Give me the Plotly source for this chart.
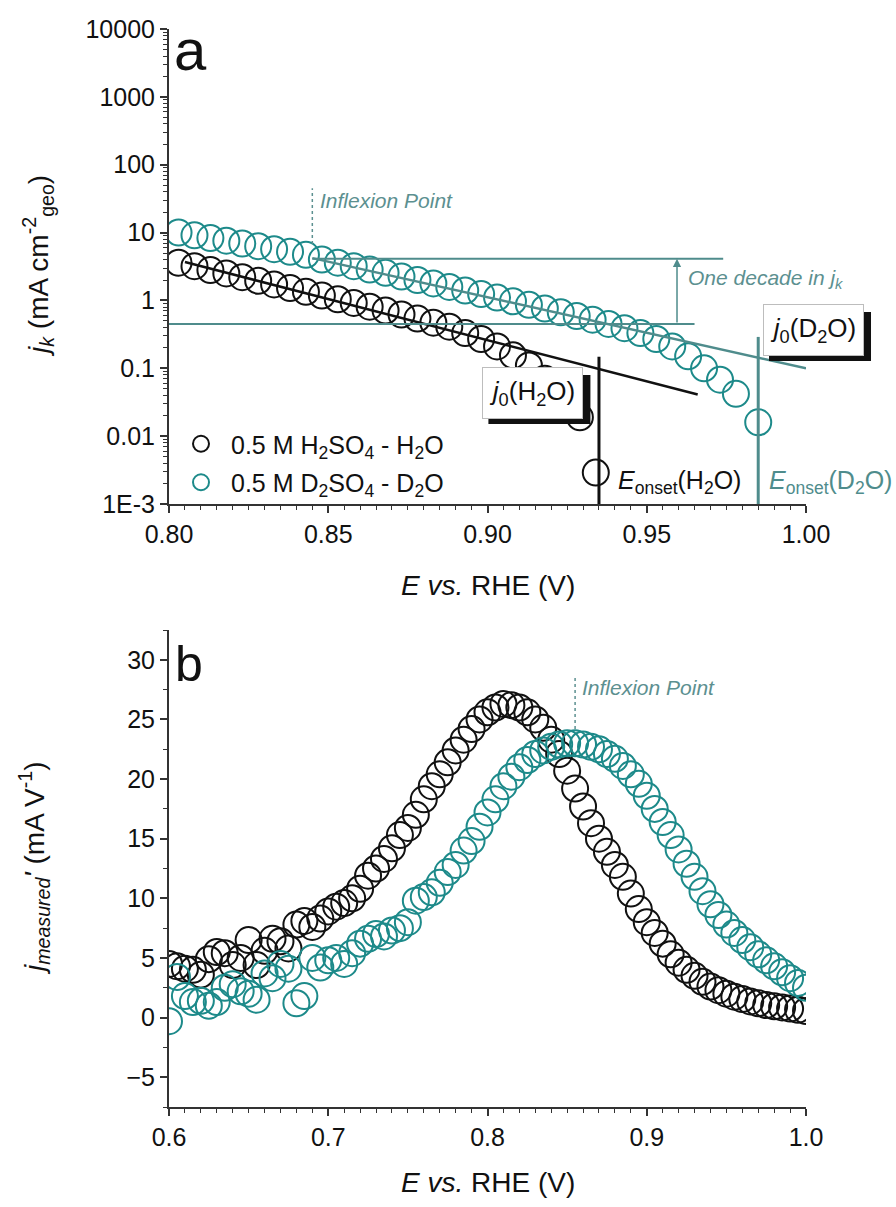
import math
import plotly.graph_objects as go

# ---------------- panel (a): kinetic current density (Tafel plot) ----------------
E_A_H2O = [0.803, 0.808, 0.813, 0.818, 0.823, 0.828, 0.833, 0.838, 0.843, 0.848,
           0.853, 0.858, 0.863, 0.868, 0.873, 0.878, 0.883, 0.888, 0.893, 0.898,
           0.903, 0.908, 0.913, 0.918, 0.923, 0.929, 0.934]
JK_H2O = [3.6, 3.2, 2.8, 2.5, 2.2, 1.95, 1.72, 1.52, 1.34, 1.18,
          1.04, 0.92, 0.81, 0.71, 0.62, 0.54, 0.47, 0.41, 0.33, 0.27,
          0.21, 0.155, 0.11, 0.07, 0.04, 0.019, 0.0029]

E_A_D2O = [0.803, 0.808, 0.813, 0.818, 0.823, 0.828, 0.833, 0.838, 0.843, 0.848,
           0.853, 0.858, 0.863, 0.868, 0.873, 0.878, 0.883, 0.888, 0.893, 0.898,
           0.903, 0.908, 0.913, 0.918, 0.923, 0.928, 0.933, 0.938, 0.943, 0.948,
           0.953, 0.958, 0.963, 0.968, 0.973, 0.978, 0.985]
JK_D2O = [10.0, 9.1, 8.3, 7.6, 6.9, 6.3, 5.7, 5.2, 4.7, 4.0,
          3.6, 3.2, 2.85, 2.55, 2.25, 2.0, 1.78, 1.58, 1.4, 1.24,
          1.1, 0.97, 0.86, 0.76, 0.67, 0.59, 0.52, 0.45, 0.39, 0.33,
          0.27, 0.21, 0.15, 0.10, 0.068, 0.042, 0.016]

# Tafel fits, one-decade guides, onset potentials, inflexion
TAFEL_H2O_E = [0.805, 0.966]
TAFEL_H2O_J = [3.68, 0.041]
TAFEL_D2O_E = [0.845, 1.0]
TAFEL_D2O_J = [4.2, 0.1]
DECADE_UPPER_E = [0.845, 0.974]
DECADE_UPPER_J = [4.1, 4.1]
DECADE_LOWER_E = [0.80, 0.965]
DECADE_LOWER_J = [0.45, 0.45]
DECADE_ARROW_E = 0.9595
E_ONSET_H2O = 0.935
E_ONSET_H2O_J = [0.001, 0.148]
E_ONSET_D2O = 0.985
E_ONSET_D2O_J = [0.001, 0.29]
E_INFLEXION_A = 0.845
INFLEXION_A_J = [6.8, 45]
J0_H2O_POS = (0.9141, 0.0433)
J0_D2O_POS = (1.0022, 0.366)

# ---------------- panel (b): derivative of the measured current ----------------
E_B = [0.600, 0.605, 0.610, 0.615, 0.620, 0.625, 0.630, 0.635, 0.640, 0.645,
       0.650, 0.655, 0.660, 0.665, 0.670, 0.675, 0.680, 0.685, 0.690, 0.695,
       0.700, 0.705, 0.710, 0.715, 0.720, 0.725, 0.730, 0.735, 0.740, 0.745,
       0.750, 0.755, 0.760, 0.765, 0.770, 0.775, 0.780, 0.785, 0.790, 0.795,
       0.800, 0.805, 0.810, 0.815, 0.820, 0.825, 0.830, 0.835, 0.840, 0.845,
       0.850, 0.855, 0.860, 0.865, 0.870, 0.875, 0.880, 0.885, 0.890, 0.895,
       0.900, 0.905, 0.910, 0.915, 0.920, 0.925, 0.930, 0.935, 0.940, 0.945,
       0.950, 0.955, 0.960, 0.965, 0.970, 0.975, 0.980, 0.985, 0.990, 0.995,
       1.000]
DJ_H2O = [4.5, 4.3, 4.1, 4.0, 3.6, 4.9, 5.5, 5.4, 4.4, 5.0,
          6.5, 4.4, 5.6, 6.6, 6.4, 5.8, 7.8, 8.1, 7.6, 8.3,
          8.9, 9.3, 9.6, 10.0, 10.8, 11.9, 12.5, 13.3, 14.2, 15.3,
          15.9, 17.0, 18.3, 19.4, 20.4, 21.4, 22.4, 23.3, 24.2, 25.0,
          25.6, 26.0, 26.3, 26.2, 26.0, 25.6, 25.0, 24.3, 23.3, 22.1,
          20.7, 19.2, 17.7, 16.3, 15.0, 13.9, 12.8, 11.8, 10.4, 9.1,
          8.0, 7.1, 6.2, 5.3, 4.6, 4.0, 3.5, 3.0, 2.6, 2.3,
          2.0, 1.75, 1.55, 1.35, 1.2, 1.05, 0.95, 0.85, 0.75, 0.65,
          0.55]
DJ_D2O = [-0.3, 3.4, 1.8, 1.3, 1.4, 1.0, 1.3, 2.5, 2.8, 2.2,
          2.0, 1.5, 3.7, 3.3, 4.5, 4.1, 1.2, 1.8, 5.0, 4.2,
          4.8, 5.0, 4.5, 5.4, 6.2, 6.6, 7.0, 6.8, 7.3, 7.5,
          8.0, 9.8, 10.1, 10.5, 11.3, 12.2, 12.8, 14.0, 14.8, 16.0,
          17.2, 18.3, 19.4, 20.2, 21.0, 21.6, 22.1, 22.4, 22.7, 22.9,
          23.0, 23.0, 22.9, 22.7, 22.5, 22.1, 21.7, 21.1, 20.4, 19.6,
          18.6, 17.5, 16.4, 15.3, 14.1, 12.9, 11.8, 10.6, 9.5, 8.6,
          7.8, 7.1, 6.5, 5.9, 5.3, 4.8, 4.3, 3.8, 3.3, 2.9,
          2.5]
E_INFLEXION_B = 0.855
INFLEXION_B_Y = [24.2, 28.7]

Y_TICKS_A = [1e-3, 1e-2, 1e-1, 1, 10, 100, 1000, 10000]
Y_TICKTEXT_A = ["1E-3", "0.01", "0.1", "1", "10", "100", "1000", "10000"]

# ---------------- styling ----------------
FONT = "Liberation Sans, Arial, sans-serif"
BLACK = "#111111"
TEAL = "#1d8a8a"
TEAL_LINE = "#4f8c8c"
TEAL_TEXT = "#5c9090"
AXIS = "#333333"

W, H = 896, 1207
ML, MR, MT, MB = 169, 90, 29, 100
PW, PH = W - ML - MR, H - MT - MB
TOP_DOM = [(H - MB - 504) / PH, 1.0]
BOT_DOM = [0.0, (H - MB - 630) / PH]


def px(xp):
    return (xp - ML) / PW


def py(yp):
    return (H - MB - yp) / PH


def a_paper(E, j):
    xp = (E - 0.8) / 0.2
    yp = TOP_DOM[0] + (math.log10(j) + 3) / 7 * (TOP_DOM[1] - TOP_DOM[0])
    return xp, yp


fig = go.Figure()

MARK = dict(size=26, symbol="circle-open", line=dict(width=2))

# panel a markers
fig.add_trace(go.Scatter(
    x=E_A_H2O, y=JK_H2O, mode="markers", xaxis="x", yaxis="y",
    name="0.5 M H<sub>2</sub>SO<sub>4</sub> - H<sub>2</sub>O", legendgroup="h",
    marker=dict(color=BLACK, **MARK)))
fig.add_trace(go.Scatter(
    x=E_A_D2O, y=JK_D2O, mode="markers", xaxis="x", yaxis="y",
    name="0.5 M D<sub>2</sub>SO<sub>4</sub> - D<sub>2</sub>O", legendgroup="d",
    marker=dict(color=TEAL, **MARK)))

# panel a guide lines


def guide(x, y, color, width, dash="solid", xa="x", ya="y"):
    fig.add_trace(go.Scatter(x=x, y=y, mode="lines", xaxis=xa, yaxis=ya,
                             showlegend=False, hoverinfo="skip",
                             line=dict(color=color, width=width, dash=dash)))


guide(TAFEL_H2O_E, TAFEL_H2O_J, BLACK, 2.5)
guide(TAFEL_D2O_E, TAFEL_D2O_J, TEAL_LINE, 2.5)
guide(DECADE_UPPER_E, DECADE_UPPER_J, TEAL_LINE, 2)
guide(DECADE_LOWER_E, DECADE_LOWER_J, TEAL_LINE, 2)
guide([E_ONSET_H2O] * 2, E_ONSET_H2O_J, BLACK, 3)
guide([E_ONSET_D2O] * 2, E_ONSET_D2O_J, TEAL_LINE, 3)
guide([E_INFLEXION_A] * 2, INFLEXION_A_J, TEAL_TEXT, 1.5, "dot")

# panel b markers
fig.add_trace(go.Scatter(
    x=E_B, y=DJ_H2O, mode="markers", xaxis="x2", yaxis="y2", showlegend=False,
    marker=dict(color=BLACK, **MARK)))
fig.add_trace(go.Scatter(
    x=E_B, y=DJ_D2O, mode="markers", xaxis="x2", yaxis="y2", showlegend=False,
    marker=dict(color=TEAL, **MARK)))
guide([E_INFLEXION_B] * 2, INFLEXION_B_Y, TEAL_TEXT, 1.5, "dot", "x2", "y2")

ann = []


def text(x, y, t, size, color=BLACK, xref="paper", yref="paper", xanchor="center",
         yanchor="middle", angle=0, **kw):
    ann.append(dict(x=x, y=y, xref=xref, yref=yref, text=t, showarrow=False,
                    xanchor=xanchor, yanchor=yanchor, textangle=angle,
                    font=dict(family=FONT, size=size, color=color), **kw))


# panel letters
text(px(172), py(50), "a", 58, xanchor="left")
text(px(173), py(664), "b", 50, xanchor="left")

# axis titles
text(px(488), py(585), "<i>E vs.</i> RHE (V)", 28)
text(px(488), py(1182), "<i>E vs.</i> RHE (V)", 28)
text(px(38), py(266), "<i>j</i><sub><i>k</i></sub> (mA cm<sup>-2</sup><sub>geo</sub>)", 28, angle=-90)
text(px(34), py(868), "<i>j</i><sub><i>measured</i></sub><i>'</i> (mA V<sup>-1</sup>)", 28, angle=-90)

# panel a annotations
text(0.8468, math.log10(30), "<i>Inflexion Point</i>", 21, TEAL_TEXT, "x", "y", "left")
text(0.9623, math.log10(2.1), "<i>One decade in j</i><sub><i>k</i></sub>", 21, TEAL_TEXT, "x", "y", "left")
text(0.9403, math.log10(0.0021), "<i>E</i><sub>onset</sub>(H<sub>2</sub>O)", 25, BLACK, "x", "y", "left")
text(0.9877, math.log10(0.0021), "<i>E</i><sub>onset</sub>(D<sub>2</sub>O)", 25, TEAL_LINE, "x", "y", "left")
ann.append(dict(x=DECADE_ARROW_E, y=math.log10(DECADE_UPPER_J[0]), xref="x", yref="y",
                ax=DECADE_ARROW_E, ay=math.log10(DECADE_LOWER_J[0]), axref="x", ayref="y",
                showarrow=True, arrowhead=2, arrowsize=1.1, arrowwidth=1.5,
                arrowcolor=TEAL_LINE, text=""))

# panel b annotation
text(0.8578, 27.7, "<i>Inflexion Point</i>", 21, TEAL_TEXT, "x2", "y2", "left")

# j0 boxes with a drop shadow
shapes = []
for (E0, j0), label in [(J0_H2O_POS, "<i>j</i><sub>0</sub>(H<sub>2</sub>O)"),
                        (J0_D2O_POS, "<i>j</i><sub>0</sub>(D<sub>2</sub>O)")]:
    xp, yp = a_paper(E0, j0)
    shapes.append(dict(type="rect", xref="paper", yref="paper",
                       xsizemode="pixel", ysizemode="pixel", xanchor=xp, yanchor=yp,
                       x0=-44, x1=58, y0=-31, y1=18, layer="above",
                       fillcolor=BLACK, line=dict(width=0)))
    ann.append(dict(x=xp, y=yp, xref="paper", yref="paper", text=label, showarrow=False,
                    xanchor="center", yanchor="middle", bgcolor="white",
                    bordercolor="#bdbdbd", borderwidth=1, borderpad=3,
                    width=93, height=44,
                    font=dict(family=FONT, size=26, color=BLACK)))

axis_common = dict(showline=True, linecolor=AXIS, linewidth=2, ticks="outside",
                   ticklen=7, tickwidth=1.5, tickcolor=AXIS, showgrid=False,
                   zeroline=False, mirror=False,
                   tickfont=dict(family=FONT, size=25, color=BLACK))

fig.update_layout(
    width=W, height=H, margin=dict(l=ML, r=MR, t=MT, b=MB),
    paper_bgcolor="white", plot_bgcolor="white",
    font=dict(family=FONT, color=BLACK),
    xaxis=dict(domain=[0, 1], anchor="y", range=[0.8, 1.0], tickmode="array",
               tickvals=[0.80, 0.85, 0.90, 0.95, 1.00], tickformat=".2f",
               minor=dict(dtick=0.005, tick0=0.8, ticks="outside", ticklen=4,
                          tickwidth=1.2, tickcolor=AXIS),
               **axis_common),
    yaxis=dict(domain=TOP_DOM, anchor="x", type="log", range=[-3, 4],
               tickmode="array", tickvals=Y_TICKS_A, ticktext=Y_TICKTEXT_A,
               minor=dict(tickmode="array",
                          tickvals=[k * 10 ** e for e in range(-3, 4) for k in range(2, 10)],
                          ticks="outside", ticklen=4, tickwidth=1.2, tickcolor=AXIS),
               **axis_common),
    xaxis2=dict(domain=[0, 1], anchor="y2", range=[0.6, 1.0], tickmode="array",
                tickvals=[0.6, 0.7, 0.8, 0.9, 1.0], tickformat=".1f",
                minor=dict(dtick=0.01, tick0=0.6, ticks="outside", ticklen=4,
                           tickwidth=1.2, tickcolor=AXIS),
                **axis_common),
    yaxis2=dict(domain=BOT_DOM, anchor="x2", range=[-7.5, 32.5], tickmode="array",
                tickvals=[-5, 0, 5, 10, 15, 20, 25, 30],
                minor=dict(dtick=2.5, tick0=0, ticks="outside", ticklen=4,
                           tickwidth=1.2, tickcolor=AXIS),
                **axis_common),
    legend=dict(x=px(171), y=py(421), xanchor="left", yanchor="top",
                bgcolor="rgba(0,0,0,0)", tracegroupgap=3, itemwidth=50,
                font=dict(family=FONT, size=25, color=BLACK)),
    annotations=ann,
    shapes=shapes,
    showlegend=True,
)

fig.write_html("out.html")
